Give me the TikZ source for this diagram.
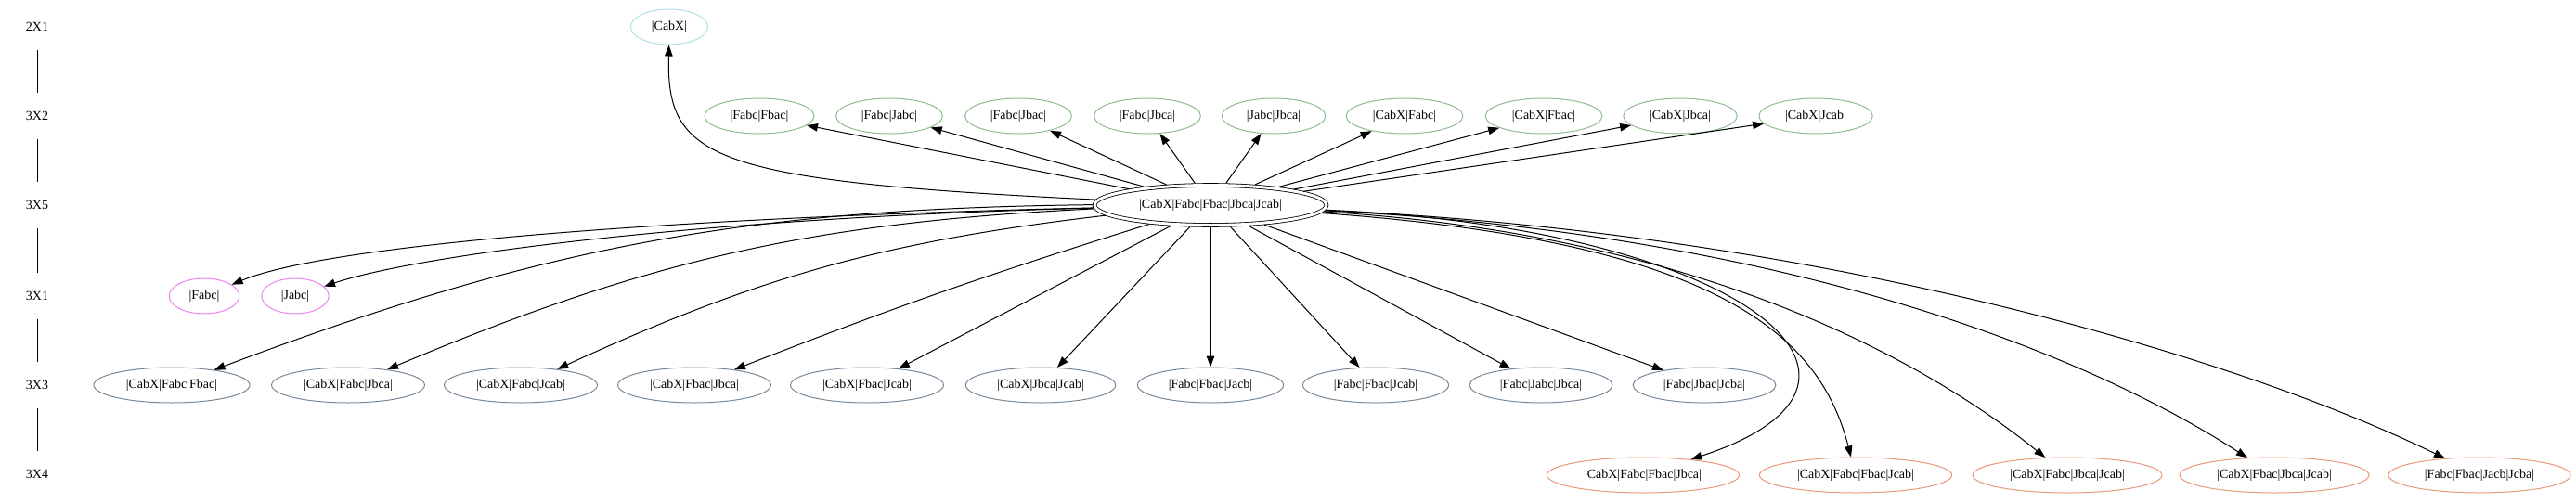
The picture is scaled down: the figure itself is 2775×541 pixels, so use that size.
\documentclass[tikz,border=0pt]{standalone}
\usepackage{fontspec}
\setmainfont{Liberation Serif}
\usetikzlibrary{arrows.meta,shapes.geometric}
\definecolor{cabxcol}{HTML}{B0E0E6}
\definecolor{twocol}{HTML}{8FBC8F}
\definecolor{onecol}{HTML}{EE82EE}
\definecolor{threecol}{HTML}{778899}
\definecolor{fourcol}{HTML}{E9967A}
\tikzset{
  st/.style={ellipse,draw,line width=1pt,inner xsep=10.3pt,inner ysep=2pt,
    minimum height=38pt,font=\fontsize{14}{16}\selectfont},
  rk/.style={inner sep=0pt,minimum height=49pt,font=\fontsize{14}{16}\selectfont},
  ed/.style={-{Triangle[length=12pt,width=8.5pt]},line width=1pt}
}
\begin{document}
\begin{tikzpicture}[x=1pt,y=1pt]
\useasboundingbox (0,0) rectangle (2775,-541);
% ranks on the left
\node[rk] (r1) at (40,-29) {2X1};
\node[rk] (r2) at (40,-125) {3X2};
\node[rk] (r3) at (40,-221) {3X5};
\node[rk] (r4) at (40,-319) {3X1};
\node[rk] (r5) at (40,-415) {3X3};
\node[rk] (r6) at (40,-511) {3X4};
\draw[line width=1pt] (r1) -- (r2); \draw[line width=1pt] (r2) -- (r3);
\draw[line width=1pt] (r3) -- (r4); \draw[line width=1pt] (r4) -- (r5);
\draw[line width=1pt] (r5) -- (r6);
% states
\node[st,draw=cabxcol] (k) at (721,-29) {|CabX|};
\foreach \x/\t [count=\i] in {818/{|Fabc|Fbac|},958/{|Fabc|Jabc|},1097/{|Fabc|Jbac|},
    1236/{|Fabc|Jbca|},1372/{|Jabc|Jbca|},1513/{|CabX|Fabc|},1663/{|CabX|Fbac|},
    1810/{|CabX|Jbca|},1956/{|CabX|Jcab|}}
  \node[st,draw=twocol] (g\i) at (\x,-125) {\t};
\node[st,draw,double,double distance=3pt,line width=0.8pt,inner xsep=11.5pt,
  minimum height=43pt,outer sep=2.3pt] (c) at (1304,-221) {|CabX|Fabc|Fbac|Jbca|Jcab|};
\node[st,draw=onecol] (m1) at (220,-319) {|Fabc|};
\node[st,draw=onecol] (m2) at (318,-319) {|Jabc|};
\foreach \x/\t [count=\i] in {185/{|CabX|Fabc|Fbac|},375/{|CabX|Fabc|Jbca|},
    561/{|CabX|Fabc|Jcab|},748/{|CabX|Fbac|Jbca|},934/{|CabX|Fbac|Jcab|},
    1121/{|CabX|Jbca|Jcab|},1304/{|Fabc|Fbac|Jacb|},1482/{|Fabc|Fbac|Jcab|},
    1660/{|Fabc|Jabc|Jbca|},1836/{|Fabc|Jbac|Jcba|}}
  \node[st,draw=threecol] (s\i) at (\x,-415) {\t};
\foreach \x/\t [count=\i] in {1770/{|CabX|Fabc|Fbac|Jbca|},1999/{|CabX|Fabc|Fbac|Jcab|},
    2227/{|CabX|Fabc|Jbca|Jcab|},2450/{|CabX|Fbac|Jbca|Jcab|},2671/{|Fabc|Fbac|Jacb|Jcba|}}
  \node[st,draw=fourcol] (t\i) at (\x,-512) {\t};
% edges
\draw[ed] (c) .. controls (760,-195) and (718,-170) .. (k);
\foreach \i in {1,...,9} \draw[ed] (c) -- (g\i);
\draw[ed] (c) .. controls (700,-235) and (350,-265) .. (m1);
\draw[ed] (c) .. controls (750,-235) and (450,-275) .. (m2);
\foreach \i/\b in {1/10,2/10,3/9,4/2,5/0,6/0,7/0,8/0,9/0,10/0}
  \draw[ed] (c) to[bend right=\b] (s\i);
\draw[ed] (c) .. controls (1870,-245) and (2080,-410) .. (t1);
\draw[ed] (c) .. controls (1850,-260) and (1960,-360) .. (t2);
\draw[ed] (c) .. controls (1800,-250) and (2050,-370) .. (t3);
\draw[ed] (c) .. controls (1900,-250) and (2230,-370) .. (t4);
\draw[ed] (c) .. controls (1950,-250) and (2400,-380) .. (t5);
\end{tikzpicture}
\end{document}
